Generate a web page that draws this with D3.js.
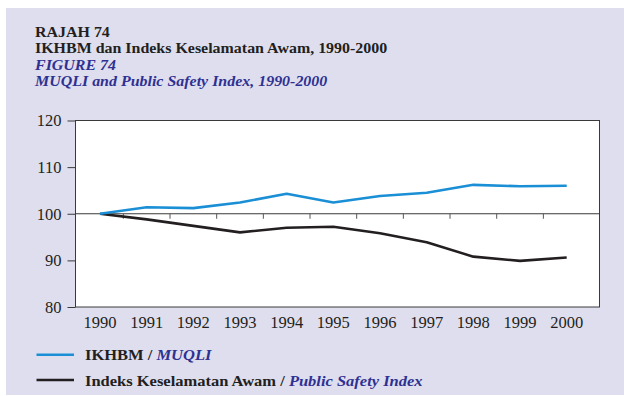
<!DOCTYPE html>
<html>
<head>
<meta charset="utf-8">
<script src="https://cdn.jsdelivr.net/npm/d3@7"></script>
<style>
  html, body { margin: 0; padding: 0; background: #ffffff; }
  svg { display: block; font-family: "Liberation Serif", "Times New Roman", serif; }
</style>
</head>
<body>
<svg id="chart" width="624" height="396"></svg>
<script>
// Years on the x axis
const years = [1990, 1991, 1992, 1993, 1994, 1995, 1996, 1997, 1998, 1999, 2000];
// Index values (1990 = 100)
const muqli = [100, 101.4, 101.2, 102.4, 104.3, 102.4, 103.8, 104.5, 106.2, 105.9, 106.0];
const safety = [100, 98.8, 97.4, 96.0, 97.0, 97.2, 95.8, 93.9, 90.8, 89.9, 90.6];
const yTicks = [80, 90, 100, 110, 120];

const titleLines = [
  { text: "RAJAH 74", italic: false },
  { text: "IKHBM dan Indeks Keselamatan Awam, 1990-2000", italic: false },
  { text: "FIGURE 74", italic: true },
  { text: "MUQLI and Public Safety Index, 1990-2000", italic: true }
];
const legendItems = [
  { malay: "IKHBM / ", english: "MUQLI", color: "#1b8fd5" },
  { malay: "Indeks Keselamatan Awam / ", english: "Public Safety Index", color: "#231f20" }
];

const navy = "#2e3192";
const ink = "#231f20";
const stretch = 1.1; // the typeface is set slightly wide
const svg = d3.select("#chart");

// Lavender panel
svg.append("rect").attr("x", 6).attr("y", 8).attr("width", 618).attr("height", 387)
  .attr("fill", "#dfdeee");

// Titles
svg.selectAll("text.title").data(titleLines).join("text")
  .attr("class", "title")
  .attr("transform", (d, i) => `translate(35,${37 + i * 16.4}) scale(${stretch},1)`)
  .attr("font-size", 14.5)
  .attr("font-weight", "bold")
  .attr("font-style", d => d.italic ? "italic" : "normal")
  .attr("fill", d => d.italic ? navy : ink)
  .text(d => d.text);

// Plot area
const plot = { left: 75.5, right: 599.5, top: 120.5, bottom: 307 };
const x = d3.scaleLinear().domain([1990, 2000]).range([100, 566.7]);
const y = d3.scaleLinear().domain([80, 120]).range([plot.bottom, plot.top]);

svg.append("rect")
  .attr("x", plot.left).attr("y", plot.top)
  .attr("width", plot.right - plot.left).attr("height", plot.bottom - plot.top)
  .attr("fill", "#ffffff").attr("stroke", "#3a3a3a").attr("stroke-width", 1);

// Y axis
const yAxis = d3.axisLeft(y).tickValues(yTicks).tickSize(8).tickPadding(6).tickFormat(d3.format("d"));
const gy = svg.append("g").attr("transform", `translate(${plot.left},0)`).call(yAxis);
gy.select(".domain").remove();
gy.selectAll(".tick line").attr("stroke", "#3a3a3a");
gy.selectAll(".tick text").attr("font-size", 16.5).attr("fill", ink)
  .attr("font-family", "Liberation Serif, Times New Roman, serif");

// Baseline at 100 with ticks between years
const base = y(100);
svg.append("line").attr("x1", plot.left).attr("x2", plot.right)
  .attr("y1", base).attr("y2", base).attr("stroke", "#3a3a3a").attr("stroke-width", 1);
const mids = years.slice(0, -1).map(v => v + 0.5);
svg.selectAll("line.mid").data(mids).join("line")
  .attr("class", "mid")
  .attr("x1", d => x(d)).attr("x2", d => x(d))
  .attr("y1", base).attr("y2", base + 5)
  .attr("stroke", "#555").attr("stroke-width", 1);

// Year labels below the plot
svg.selectAll("text.year").data(years).join("text")
  .attr("class", "year")
  .attr("x", d => x(d)).attr("y", 328)
  .attr("text-anchor", "middle")
  .attr("font-size", 16.5).attr("fill", ink)
  .text(d => d);

// Series lines
const line = d3.line().x((d, i) => x(years[i])).y(d => y(d));
svg.append("path").datum(safety).attr("d", line)
  .attr("fill", "none").attr("stroke", legendItems[1].color).attr("stroke-width", 2.6)
  .attr("stroke-linejoin", "round");
svg.append("path").datum(muqli).attr("d", line)
  .attr("fill", "none").attr("stroke", legendItems[0].color).attr("stroke-width", 2.6)
  .attr("stroke-linejoin", "round");

// Legend
const lg = svg.selectAll("g.legend").data(legendItems).join("g")
  .attr("class", "legend")
  .attr("transform", (d, i) => `translate(0,${354.7 + i * 25.3})`);
lg.append("line").attr("x1", 36.5).attr("x2", 74).attr("y1", 0).attr("y2", 0)
  .attr("stroke", d => d.color).attr("stroke-width", 2.6);
const lt = lg.append("text")
  .attr("transform", `translate(85,5.5) scale(${stretch},1)`)
  .attr("font-size", 15).attr("font-weight", "bold");
lt.append("tspan").attr("fill", ink).text(d => d.malay);
lt.append("tspan").attr("fill", navy).attr("font-style", "italic").text(d => d.english);
</script>
</body>
</html>
